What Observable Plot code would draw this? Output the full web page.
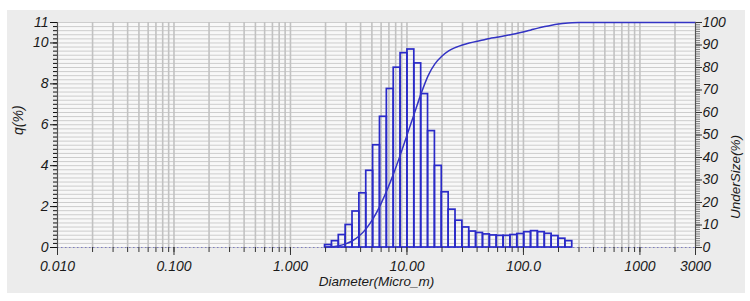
<!DOCTYPE html>
<html><head><meta charset="utf-8">
<script src="https://cdn.jsdelivr.net/npm/d3@7"></script>
<script src="https://cdn.jsdelivr.net/npm/@observablehq/plot@0.6"></script>
<style>
body{margin:0;background:#fff;}
#wrap{position:relative;width:750px;height:301px;overflow:hidden;}
#panel{position:absolute;left:7px;top:10px;width:738px;height:283px;background:#ececec;}
#chart{position:absolute;left:0;top:0;}
#chart svg{background:transparent;overflow:visible;}
</style></head><body>
<div id="wrap"><div id="panel"></div><div id="chart"></div></div>
<script>
// Histogram channel edges (µm)
const binEdges = [1.981, 2.269, 2.599, 2.976, 3.409, 3.905, 4.472, 5.122, 5.867, 6.720, 7.697, 8.816,
  10.097, 11.565, 13.246, 15.172, 17.377, 19.904, 22.797, 26.111, 29.907, 34.255, 39.234, 44.938,
  51.471, 58.953, 67.523, 77.339, 88.583, 101.46, 116.21, 133.10, 152.45, 174.62, 200.0, 229.08, 262.38];
// q(%) per channel
const qPercent = [0.12, 0.31, 0.61, 1.10, 1.76, 2.65, 3.75, 5.00, 6.39, 7.75, 8.79, 9.50,
  9.68, 9.00, 7.50, 5.69, 3.99, 2.70, 1.85, 1.31, 0.98, 0.78, 0.71, 0.64,
  0.59, 0.57, 0.57, 0.61, 0.66, 0.75, 0.80, 0.75, 0.67, 0.56, 0.43, 0.31];
// Cumulative undersize curve
const curveSize = [1.981, 2.269, 2.599, 2.976, 3.409, 3.905, 4.472, 5.122, 5.867, 6.720, 7.697, 8.816,
  10.097, 11.565, 13.246, 15.172, 17.377, 19.904, 22.797, 26.111, 29.907, 34.255, 39.234, 44.938,
  51.471, 58.953, 67.523, 77.339, 88.583, 101.46, 116.21, 133.10, 152.45, 174.62, 200.0, 229.08, 262.38, 300.52, 3000];
const underSize = [0, 0.3, 0.75, 1.6, 3.0, 5.2, 8.4, 12.8, 18.5, 25.3, 33.0, 41.5,
  50.5, 59.5, 68.5, 76.3, 81.6, 85.0, 87.4, 88.9, 90.0, 90.9, 91.6, 92.2,
  92.9, 93.4, 94.0, 94.6, 95.2, 95.9, 96.7, 97.5, 98.2, 98.8, 99.3, 99.7, 99.9, 100, 100];
const xTickValues = [0.01, 0.1, 1, 10, 100, 1000, 3000];
const xTickLabels = ["0.010", "0.100", "1.000", "10.00", "100.0", "1000", "3000"];
const yLeftTicks = [0, 2, 4, 6, 8, 10, 11];
const yRightTicks = [0, 10, 20, 30, 40, 50, 60, 70, 80, 90, 100];

const K = 11 / 100; // right axis (0-100) shares the plot height with left (0-11)
const blue = "#2a2ac8";

const bins = qPercent.map((q, i) => ({lo: binEdges[i], hi: binEdges[i + 1], q}));
const curve = curveSize.map((s, i) => ({s, u: underSize[i]}));
const xLabels = xTickValues.map((v, i) => ({v, t: xTickLabels[i]}));

const minorX = [];
for (let e = -2; e <= 3; e++) for (let m = 1; m <= 9; m++) {
  const v = m * Math.pow(10, e);
  if (v >= 0.01 && v <= 3000.0001) minorX.push(+v.toPrecision(3));
}
const gridYVals = d3.range(0, 56).map(i => i * 0.2);
const rightMinor = d3.range(0, 101).map(i => i * K);

const chart = Plot.plot({
  width: 750, height: 301,
  marginLeft: 57, marginRight: 55, marginTop: 22, marginBottom: 54,
  style: {fontFamily: "'Liberation Sans', Arial, sans-serif", fontStyle: "italic", fontSize: "14px", color: "#1a1a1a", background: "transparent"},
  x: {type: "log", domain: [0.01, 3000], range: [57, 695]},
  y: {domain: [0, 11]},
  marks: [
    Plot.frame({fill: "#f8f8f8", stroke: "none"}),
    Plot.gridY({ticks: gridYVals, stroke: "#cdcdcd", strokeOpacity: 1, strokeWidth: 1}),
    Plot.gridX({ticks: minorX, stroke: "#c2c2c2", strokeOpacity: 1, strokeWidth: 1.6}),
    Plot.ruleY([0], {stroke: "#7c7cc0", strokeDasharray: "1.5,2.5", strokeWidth: 1}),
    Plot.rect(bins, {x1: "lo", x2: "hi", y1: 0, y2: "q", fill: "none", stroke: blue, strokeWidth: 1.7}),
    Plot.line(curve, {x: "s", y: d => d.u * K, stroke: "#3333c4", strokeWidth: 1.5, curve: "monotone-x"}),
    Plot.ruleX([0.01, 3000], {stroke: "#555", strokeWidth: 1}),
    // bottom axis
    Plot.axisX({ticks: minorX, tickSize: 5, tickFormat: () => "", label: null, stroke: "#333"}),
    Plot.axisX({ticks: xTickValues, tickSize: 8, tickFormat: () => "", label: null, stroke: "#333"}),
    Plot.text(xLabels, {x: "v", y: 0, text: "t", dy: 19, fontSize: 14, fill: "#1a1a1a", clip: false}),
    Plot.text(["Diameter(Micro_m)"], {frameAnchor: "bottom", dy: 38, fontSize: 13.5, fill: "#1a1a1a"}),
    // left axis
    Plot.axisY({ticks: gridYVals, tickSize: 4, tickFormat: () => "", label: null, stroke: "#111"}),
    Plot.axisY({ticks: yLeftTicks, tickSize: 7, tickPadding: 2, label: null, stroke: "#111", fontSize: 14}),
    Plot.text(["q(%)"], {frameAnchor: "left", dx: -39, rotate: -90, fontSize: 14, fill: "#1a1a1a"}),
    // right axis
    Plot.axisY({anchor: "right", ticks: rightMinor, tickSize: 4, tickFormat: () => "", label: null, stroke: "#666", strokeWidth: 0.8}),
    Plot.axisY({anchor: "right", ticks: yRightTicks.map(v => v * K), tickSize: 6, tickPadding: 1, tickFormat: d => Math.round(d / K), label: null, stroke: "#333", fontSize: 14}),
    Plot.text(["UnderSize(%)"], {frameAnchor: "right", dx: 40, rotate: -90, fontSize: 13.5, fill: "#1a1a1a"})
  ]
});
document.getElementById("chart").appendChild(chart);
</script>
</body></html>
